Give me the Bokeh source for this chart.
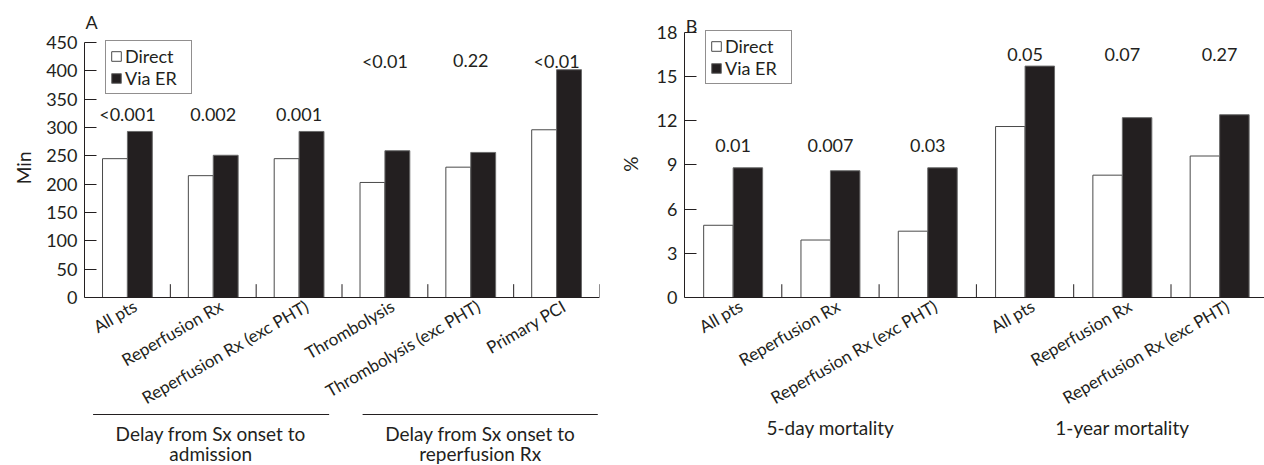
import numpy as np
from bokeh.plotting import figure
from bokeh.models import (FixedTicker, Legend, LegendItem, Label, Arrow,
                          Range1d, ColumnDataSource, Title)
from bokeh.core.properties import value
from bokeh.layouts import row
from bokeh.embed import file_html
from bokeh.resources import INLINE

FONT = "Lato"
INK = "#231f20"
EDGE = "#4a4a4a"

# ---------------- data: panel A ----------------
a_categories = ["All pts", "Reperfusion Rx", "Reperfusion Rx (exc PHT)",
                "Thrombolysis", "Thrombolysis (exc PHT)", "Primary PCI"]
a_direct = [245, 215, 245, 203, 230, 296]
a_via_er = [293, 251, 293, 259, 256, 402]
a_pvalues = ["<0.001", "0.002", "0.001", "<0.01", "0.22", "<0.01"]
a_pvalue_y = [323, 323, 323, 418, 418, 418]
a_y_ticks = [0, 50, 100, 150, 200, 250, 300, 350, 400, 450]
a_group_titles = [("Delay from Sx onset to", "admission"),
                  ("Delay from Sx onset to", "reperfusion Rx")]

# ---------------- data: panel B ----------------
b_categories = ["All pts", "Reperfusion Rx", "Reperfusion Rx (exc PHT)",
                "All pts", "Reperfusion Rx", "Reperfusion Rx (exc PHT)"]
b_direct = [4.9, 3.9, 4.5, 11.6, 8.3, 9.6]
b_via_er = [8.8, 8.6, 8.8, 15.7, 12.2, 12.4]
b_pvalues = ["0.01", "0.007", "0.03", "0.05", "0.07", "0.27"]
b_pvalue_y = [10.3, 10.3, 10.3, 16.5, 16.5, 16.5]
b_y_ticks = [0, 3, 6, 9, 12, 15, 18]
b_group_titles = ["5-day mortality", "1-year mortality"]

CANVAS_H = 465          # canvas spans page y 0..465
ZERO_Y = 297            # canvas y of the value 0 line


def make_panel(cats, direct, via, pvals, pv_y, yticks, width, left, right,
               top_px, xmax, bar_w, sep_h, ylabel, label_shift,
               legend_loc, ylabel_top, ylabel_standoff):
    n = len(cats)
    ymax_t = yticks[-1]
    ppu = (ZERO_Y - top_px) / ymax_t            # pixels per unit
    y0 = -(CANVAS_H - ZERO_Y) / ppu
    y1 = ymax_t + top_px / ppu
    p = figure(width=width, height=CANVAS_H, output_backend="svg",
               toolbar_location=None, tools="",
               x_range=Range1d(0, xmax), y_range=Range1d(y0, y1),
               min_border_left=left, min_border_right=right,
               min_border_top=0, min_border_bottom=0)
    p.outline_line_color = None
    p.grid.visible = False
    p.background_fill_color = "white"
    p.border_fill_color = "white"

    idx = np.arange(n)
    src = ColumnDataSource(dict(
        xd=idx + 0.5 - bar_w / 2, xv=idx + 0.5 + bar_w / 2,
        direct=direct, via=via,
        xp=idx + 0.5, yp=pv_y, pv=pvals))
    r_d = p.vbar(x="xd", top="direct", width=bar_w, source=src,
                 fill_color="white", line_color=EDGE, line_width=1)
    r_v = p.vbar(x="xv", top="via", width=bar_w, source=src,
                 fill_color=INK, line_color="#6a6a6a", line_width=1)

    # group separators (short inward ticks on the x axis)
    seps = np.arange(1, n + 1)
    p.segment(x0=seps, x1=seps, y0=np.zeros(n), y1=np.full(n, sep_h),
              line_color=INK, line_width=1)

    p.text(x="xp", y="yp", text="pv", source=src, text_align="center",
           text_baseline="middle", text_font=value(FONT),
           text_font_size="18px", text_color=INK)

    # axes
    xa = p.xaxis[0]
    xa.fixed_location = 0
    ticks = [round(i + 0.5 + label_shift, 3) for i in range(n)]
    xa.ticker = FixedTicker(ticks=ticks)
    xa.major_label_overrides = {t: c for t, c in zip(ticks, cats)}
    xa.major_label_orientation = np.pi / 6
    xa.major_tick_in = 0
    xa.major_tick_out = 0
    xa.minor_tick_line_color = None
    xa.axis_line_color = INK
    xa.major_label_text_font = FONT
    xa.major_label_text_font_size = "17px"
    xa.major_label_text_color = INK
    xa.major_label_standoff = 7

    ya = p.yaxis[0]
    ya.bounds = (0, ymax_t)
    ya.ticker = FixedTicker(ticks=yticks)
    ya.major_tick_in = 12
    ya.major_tick_out = 0
    ya.minor_tick_line_color = None
    ya.axis_line_color = INK
    ya.major_tick_line_color = INK
    ya.major_label_text_font = FONT
    ya.major_label_text_font_size = "18px"
    ya.major_label_text_color = INK
    ya.major_label_standoff = 7

    # y axis title, placed beside the value range (0..max) of the axis
    p.add_layout(Title(text=ylabel, align="right", offset=ylabel_top,
                       vertical_align="bottom", standoff=ylabel_standoff,
                       text_font=FONT, text_font_size="19px",
                       text_font_style="normal", text_color=INK), "left")

    legend = Legend(items=[LegendItem(label="Direct", renderers=[r_d]),
                           LegendItem(label="Via ER", renderers=[r_v])],
                    location=legend_loc, orientation="vertical",
                    glyph_width=12, glyph_height=12, label_standoff=3,
                    padding=4, spacing=0, label_height=19, label_width=62,
                    margin=0,
                    border_line_color=INK, border_line_width=1,
                    background_fill_color="white", background_fill_alpha=1,
                    label_text_font=FONT, label_text_font_size="18px",
                    label_text_color=INK)
    p.add_layout(legend)
    return p, ppu


def txt(p, x, y, t, size="19px", align="center", baseline="middle"):
    p.add_layout(Label(x=x, y=y, text=t, text_font=FONT,
                       text_font_size=size, text_color=INK,
                       text_align=align, text_baseline=baseline))


# ---------------- panel A ----------------
pA, ppa = make_panel(a_categories, a_direct, a_via_er, a_pvalues, a_pvalue_y,
                     a_y_ticks, width=600, left=84, right=1, top_px=42,
                     xmax=6, bar_w=0.29, sep_h=23.5, ylabel="Min",
                     label_shift=0.09, legend_loc=(21, 371),
                     ylabel_top=151, ylabel_standoff=17)
txt(pA, 0.012, 487, "A", size="18px", align="left", baseline="alphabetic")
for (x0, x1), (l1, l2), xc in zip([(0.1, 2.85), (3.24, 5.98)],
                                  a_group_titles, [1.47, 4.61]):
    yb = -(414 - ZERO_Y) / ppa
    pA.add_layout(Arrow(x_start=x0, y_start=yb, x_end=x1, y_end=yb,
                        start=None, end=None, line_color=INK, line_width=1))
    txt(pA, xc, -(433 - ZERO_Y) / ppa, l1)
    txt(pA, xc, -(453 - ZERO_Y) / ppa, l2)

# ---------------- panel B ----------------
pB, ppb = make_panel(b_categories, b_direct, b_via_er, b_pvalues, b_pvalue_y,
                     b_y_ticks, width=664, left=84, right=0, top_px=31.7,
                     xmax=580 / 97.3, bar_w=0.303, sep_h=0.9, ylabel="%",
                     label_shift=0.08, legend_loc=(21, 381),
                     ylabel_top=156, ylabel_standoff=24)
txt(pB, 0.012, 18.4, "B", size="18px", align="left", baseline="alphabetic")
for xc, t in zip([1.5, 4.5], b_group_titles):
    txt(pB, xc, -(427 - ZERO_Y) / ppb, t)

layout = row(pA, pB, spacing=0)
open("out.html", "w").write(file_html(layout, INLINE))
